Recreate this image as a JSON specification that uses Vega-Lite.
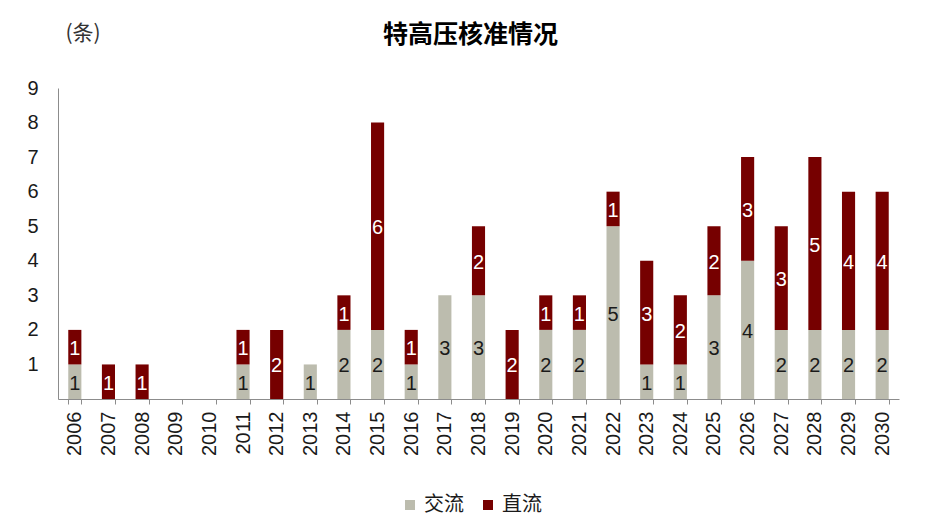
{
  "$schema": "https://vega.github.io/schema/vega-lite/v6.json",
  "width": 841,
  "height": 311,
  "autosize": "none",
  "padding": {"left": 58, "top": 88, "right": 28, "bottom": 126},
  "background": "white",
  "title": {
    "text": "特高压核准情况",
    "font": "Noto Sans CJK SC",
    "fontSize": 25,
    "fontWeight": "bold",
    "color": "#000000",
    "anchor": "middle",
    "dx": -8,
    "offset": -26
  },
  "config": {
    "view": {"stroke": null},
    "font": "Liberation Sans",
    "axisY": {
      "titleAngle": 0,
      "titleAlign": "left",
      "titleBaseline": "middle",
      "titleX": 7,
      "titleY": -55,
      "titleFont": "Noto Sans CJK SC",
      "titleFontSize": 21,
      "titleFontWeight": "normal",
      "titleColor": "#333333",
      "labelFont": "Liberation Sans",
      "labelFontSize": 20,
      "labelColor": "#1a1a1a",
      "labelPadding": 20,
      "labelOverlap": false,
      "ticks": false,
      "grid": false,
      "domainColor": "#8c8c8c"
    }
  },
  "data": {
    "values": [
      {"year": "2006", "type": "交流", "value": 1}, {"year": "2006", "type": "直流", "value": 1},
      {"year": "2007", "type": "交流", "value": 0}, {"year": "2007", "type": "直流", "value": 1},
      {"year": "2008", "type": "交流", "value": 0}, {"year": "2008", "type": "直流", "value": 1},
      {"year": "2009", "type": "交流", "value": 0}, {"year": "2009", "type": "直流", "value": 0},
      {"year": "2010", "type": "交流", "value": 0}, {"year": "2010", "type": "直流", "value": 0},
      {"year": "2011", "type": "交流", "value": 1}, {"year": "2011", "type": "直流", "value": 1},
      {"year": "2012", "type": "交流", "value": 0}, {"year": "2012", "type": "直流", "value": 2},
      {"year": "2013", "type": "交流", "value": 1}, {"year": "2013", "type": "直流", "value": 0},
      {"year": "2014", "type": "交流", "value": 2}, {"year": "2014", "type": "直流", "value": 1},
      {"year": "2015", "type": "交流", "value": 2}, {"year": "2015", "type": "直流", "value": 6},
      {"year": "2016", "type": "交流", "value": 1}, {"year": "2016", "type": "直流", "value": 1},
      {"year": "2017", "type": "交流", "value": 3}, {"year": "2017", "type": "直流", "value": 0},
      {"year": "2018", "type": "交流", "value": 3}, {"year": "2018", "type": "直流", "value": 2},
      {"year": "2019", "type": "交流", "value": 0}, {"year": "2019", "type": "直流", "value": 2},
      {"year": "2020", "type": "交流", "value": 2}, {"year": "2020", "type": "直流", "value": 1},
      {"year": "2021", "type": "交流", "value": 2}, {"year": "2021", "type": "直流", "value": 1},
      {"year": "2022", "type": "交流", "value": 5}, {"year": "2022", "type": "直流", "value": 1},
      {"year": "2023", "type": "交流", "value": 1}, {"year": "2023", "type": "直流", "value": 3},
      {"year": "2024", "type": "交流", "value": 1}, {"year": "2024", "type": "直流", "value": 2},
      {"year": "2025", "type": "交流", "value": 3}, {"year": "2025", "type": "直流", "value": 2},
      {"year": "2026", "type": "交流", "value": 4}, {"year": "2026", "type": "直流", "value": 3},
      {"year": "2027", "type": "交流", "value": 2}, {"year": "2027", "type": "直流", "value": 3},
      {"year": "2028", "type": "交流", "value": 2}, {"year": "2028", "type": "直流", "value": 5},
      {"year": "2029", "type": "交流", "value": 2}, {"year": "2029", "type": "直流", "value": 4},
      {"year": "2030", "type": "交流", "value": 2}, {"year": "2030", "type": "直流", "value": 4}
    ]
  },
  "transform": [
    {"stack": "value", "groupby": ["year"], "sort": [{"field": "type", "order": "ascending"}], "as": ["v0", "v1"]}
  ],
  "encoding": {
    "x": {
      "field": "year",
      "type": "ordinal",
      "scale": {"paddingInner": 0.61, "paddingOuter": 0.305},
      "axis": {
        "title": null,
        "labelAngle": -90,
        "labelAlign": "right",
        "labelBaseline": "middle",
        "labelFont": "Liberation Sans",
        "labelFontSize": 20,
        "labelColor": "#1a1a1a",
        "labelPadding": 7,
        "labelOverlap": false,
        "tickBand": "extent",
        "tickSize": 5,
        "tickColor": "#8c8c8c",
        "domainColor": "#8c8c8c",
        "grid": false
      }
    }
  },
  "layer": [
    {
      "mark": {"type": "bar"},
      "encoding": {
        "y": {
          "field": "v1",
          "type": "quantitative",
          "scale": {"domain": [0, 9], "nice": false},
          "axis": {"title": "(条)", "values": [1, 2, 3, 4, 5, 6, 7, 8, 9]}
        },
        "y2": {"field": "v0"},
        "color": {
          "field": "type",
          "type": "nominal",
          "scale": {"domain": ["交流", "直流"], "range": ["#bcbcae", "#760000"]},
          "legend": {
            "title": null,
            "orient": "none",
            "direction": "horizontal",
            "legendX": 342,
            "legendY": 407,
            "symbolType": "square",
            "symbolSize": 100,
            "symbolStrokeWidth": 0,
            "labelFont": "Noto Sans CJK SC",
            "labelFontSize": 20,
            "labelColor": "#1a1a1a",
            "labelOffset": 4,
            "columnPadding": 14
          }
        }
      }
    },
    {
      "transform": [
        {"filter": "datum.value > 0"},
        {"calculate": "(datum.v0 + datum.v1) / 2", "as": "mid"}
      ],
      "mark": {"type": "text", "font": "Liberation Sans", "fontSize": 20, "baseline": "middle", "dy": 2},
      "encoding": {
        "y": {
          "field": "mid",
          "type": "quantitative",
          "scale": {"domain": [0, 9], "nice": false},
          "axis": {"title": "(条)", "values": [1, 2, 3, 4, 5, 6, 7, 8, 9]}
        },
        "text": {"field": "value", "type": "quantitative"},
        "color": {
          "condition": {"test": "datum.type === '直流'", "value": "#ffffff"},
          "value": "#1a1a1a"
        }
      }
    }
  ]
}
